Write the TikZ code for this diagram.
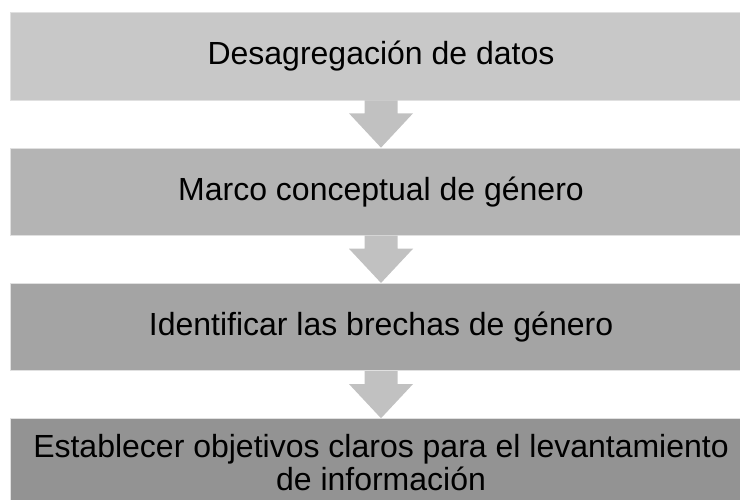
\documentclass[tikz,border=0pt]{standalone}
\usepackage{fontspec}
\setmainfont{Liberation Sans}
\usetikzlibrary{calc}
\definecolor{gris1}{RGB}{200,200,200}
\definecolor{gris2}{RGB}{180,180,180}
\definecolor{gris3}{RGB}{164,164,164}
\definecolor{gris4}{RGB}{147,147,147}
\definecolor{grisflecha}{RGB}{193,193,193}
\begin{document}
\begin{tikzpicture}[x=1pt, y=-1pt, caja/.style = {rectangle,draw=white!88!black,line width=0.6pt,minimum width=740.6pt,minimum height=87.5pt,inner sep=0pt,align=center,font=\fontsize{32}{33}\selectfont},flecha/.style = {fill=grisflecha},]
		\useasboundingbox (0,0) rectangle (740,500);
		\clip (0,0) rectangle (740,500);
		\node[caja,fill=gris1] (d) at (381,56.3) {Desagregación de datos};
		\node[caja,fill=gris2] (m) at (381,191.7) {Marco conceptual de género};
		\node[caja,fill=gris3] (i) at (381,327) {Identificar las brechas de género};
		\node[caja,fill=gris4] (e) at (381,462.3) {Establecer objetivos claros para el levantamiento\\de información};
		
		\fill[flecha] ($(d.south)+(-16.5,0)$) -- ($(d.south)+(16.5,0)$) -- ($(d.south)+(16.5,13)$) -- ($(d.south)+(32,13)$) -- (m.north) -- ($(d.south)+(-32,13)$) -- ($(d.south)+(-16.5,13)$) -- cycle;
		\fill[flecha] ($(m.south)+(-16.5,0)$) -- ($(m.south)+(16.5,0)$) -- ($(m.south)+(16.5,13)$) -- ($(m.south)+(32,13)$) -- (i.north) -- ($(m.south)+(-32,13)$) -- ($(m.south)+(-16.5,13)$) -- cycle;
		\fill[flecha] ($(i.south)+(-16.5,0)$) -- ($(i.south)+(16.5,0)$) -- ($(i.south)+(16.5,13)$) -- ($(i.south)+(32,13)$) -- (e.north) -- ($(i.south)+(-32,13)$) -- ($(i.south)+(-16.5,13)$) -- cycle;
	\end{tikzpicture}
\end{document}
